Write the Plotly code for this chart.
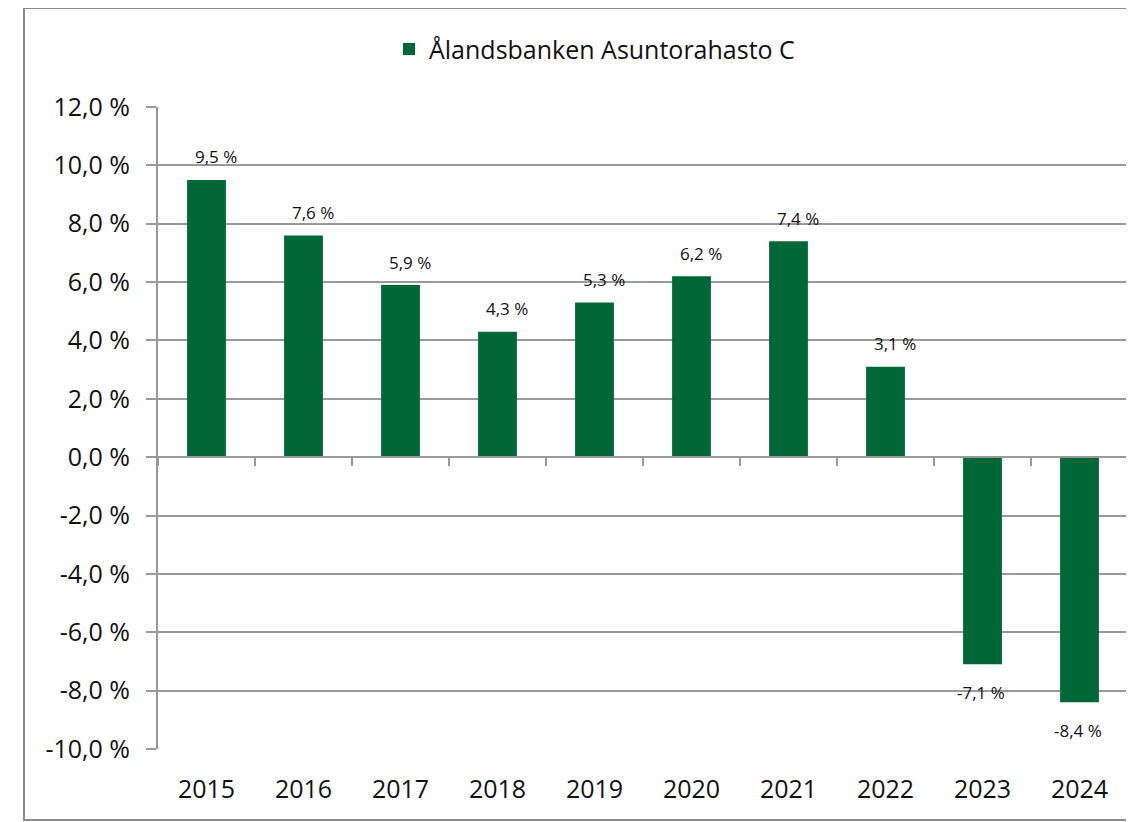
import plotly.graph_objects as go

years = ["2015", "2016", "2017", "2018", "2019", "2020", "2021", "2022", "2023", "2024"]
returns = [9.5, 7.6, 5.9, 4.3, 5.3, 6.2, 7.4, 3.1, -7.1, -8.4]
series_name = "Ålandsbanken Asuntorahasto C"

y_tickvals = [12, 10, 8, 6, 4, 2, 0, -2, -4, -6, -8, -10]
y_ticktext = ["12,0 %", "10,0 %", "8,0 %", "6,0 %", "4,0 %", "2,0 %", "0,0 %",
              "-2,0 %", "-4,0 %", "-6,0 %", "-8,0 %", "-10,0 %"]
y_min, y_max = -10, 12

green = "#006837"
grid = "#999999"
font = "Open Sans"

labels = ["{:.1f} %".format(v).replace(".", ",") for v in returns]

fig = go.Figure()
fig.add_trace(go.Bar(
    x=years, y=returns, name=series_name,
    marker=dict(color=green, line=dict(width=0)),
    hoverinfo="x+y",
))
# invisible helper trace for the axis drawn at zero (boundary ticks)
fig.add_trace(go.Scatter(
    x=years, y=[0] * len(years), xaxis="x2", mode="markers",
    marker=dict(opacity=0), showlegend=False, hoverinfo="skip",
))

# data labels, Excel style (a bit away from the bar end)
for i, (v, t) in enumerate(zip(returns, labels)):
    fig.add_annotation(x=i, y=v, xref="x", yref="y", text=t, showarrow=False,
                       xshift=9 if v > 0 else -2, yshift=23 if v > 0 else -28,
                       font=dict(size=17, color="#111111", family=font))

cat_range = [-0.5, len(years) - 0.5]

fig.update_layout(
    width=1126, height=814,
    margin=dict(l=150, r=6, t=99, b=73),
    paper_bgcolor="white", plot_bgcolor="white",
    font=dict(family=font, color="#111111"),
    bargap=0.6,
    showlegend=True,
    legend=dict(orientation="h", x=0.45, xanchor="center", y=1.09, yanchor="middle",
                font=dict(size=25, family=font), itemwidth=30),
    xaxis=dict(
        type="category", range=cat_range, showgrid=False, showline=False, zeroline=False,
        ticks="", tickfont=dict(size=25), ticklabelstandoff=23,
    ),
    xaxis2=dict(
        type="category", range=cat_range, overlaying="x", anchor="free",
        position=(0 - y_min) / (y_max - y_min),
        side="bottom", showline=True, linecolor=grid, linewidth=2,
        ticks="outside", tickson="boundaries", ticklen=8, tickwidth=2, tickcolor=grid,
        showticklabels=False, showgrid=False, zeroline=False,
    ),
    yaxis=dict(
        range=[y_min, y_max], tickvals=y_tickvals, ticktext=y_ticktext,
        showgrid=True, gridcolor=grid, gridwidth=2,
        zeroline=False, showline=True, linecolor=grid, linewidth=2,
        ticks="outside", ticklen=10, tickwidth=2, tickcolor=grid,
        tickfont=dict(size=25), ticklabelstandoff=11,
    ),
)

# outer chart frame
fig.add_shape(type="rect", xref="paper", yref="paper",
              x0=(16 - 150) / 970, x1=(1140 - 150) / 970,
              y0=(741 - 812) / 642, y1=(741 - 0) / 642,
              line=dict(color="#8c8c8c", width=2), fillcolor="rgba(0,0,0,0)", layer="below")

fig.write_html("out.html")
